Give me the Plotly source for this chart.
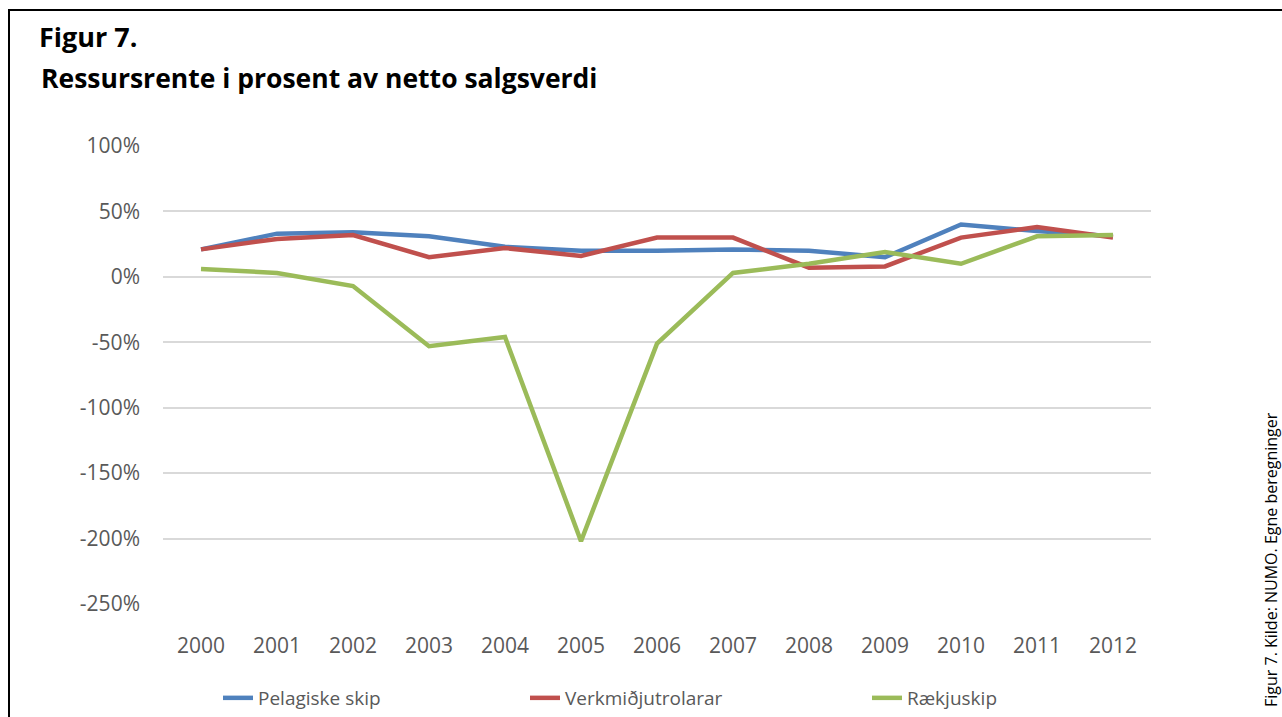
import plotly.graph_objects as go

W, H = 1282, 717

years = [str(y) for y in range(2000, 2013)]
pelagiske = [21, 33, 34, 31, 23, 20, 20, 21, 20, 15, 40, 35, 31]
verkmidju = [21, 29, 32, 15, 22, 16, 30, 30, 7, 8, 30, 38, 30]
raekjuskip = [6, 3, -7, -53, -46, -202, -51, 3, 10, 19, 10, 31, 32]

y_ticks = [100, 50, 0, -50, -100, -150, -200, -250]
y_labels = [f"{v}%" for v in y_ticks]

FONT = "Open Sans"
GREY = "#595959"


def px(x):
    return x / W


def py(y):
    return 1 - y / H


fig = go.Figure()
series = [
    ("Pelagiske skip", pelagiske, "#4F81BD", "legend", 218),
    ("Verkmiðjutrolarar", verkmidju, "#C0504D", "legend2", 525),
    ("Rækjuskip", raekjuskip, "#9BBB59", "legend3", 867),
]
legends = {}
for name, vals, col, leg, lx in series:
    fig.add_trace(go.Scatter(x=years, y=vals, name=name, mode="lines",
                             line=dict(color=col, width=4.5), legend=leg))
    # each series gets its own legend box so the entries sit where they do
    # in the original (uneven spacing)
    legends[leg] = dict(orientation="h", x=px(lx), y=py(698), xanchor="left",
                        yanchor="middle", font=dict(size=19, color=GREY),
                        bgcolor="rgba(0,0,0,0)")

fig.update_layout(
    width=W, height=H,
    margin=dict(l=0, r=0, t=0, b=0),
    paper_bgcolor="white", plot_bgcolor="white",
    font=dict(family=FONT, color=GREY, size=20),
    title=dict(text="<b>Figur 7.</b>", x=px(39), xanchor="left",
               y=py(38), yanchor="middle", xref="paper", yref="paper",
               font=dict(family=FONT, size=27, color="black")),
    xaxis=dict(domain=[px(163), px(1151)], type="category",
               range=[-0.5, 12.5], showgrid=False, showline=False,
               ticks="", ticklabelstandoff=27,
               tickfont=dict(size=21, color=GREY), automargin=False),
    yaxis=dict(domain=[py(604), py(146)], range=[-250, 100],
               tickvals=y_ticks, ticktext=y_labels, showgrid=True,
               gridcolor="#D9D9D9", gridwidth=1.5, zeroline=False,
               showline=False, ticks="", ticklabelstandoff=22,
               tickfont=dict(size=21, color=GREY), automargin=False),
    showlegend=True,
    **legends,
    annotations=[
        dict(text="<b>Ressursrente i prosent av netto salgsverdi</b>",
             x=px(39), y=py(78), xref="paper", yref="paper",
             xanchor="left", yanchor="middle", showarrow=False,
             font=dict(family=FONT, size=26.5, color="black")),
        dict(text="Figur 7. Kilde: NUMO. Egne beregninger",
             x=px(1271), y=py(560), xref="paper", yref="paper",
             xanchor="center", yanchor="middle", showarrow=False,
             textangle=-90, font=dict(family=FONT, size=16, color="black")),
    ],
    shapes=[dict(type="rect", xref="paper", yref="paper",
                 x0=px(9), y0=py(760), x1=px(1320), y1=py(10),
                 line=dict(color="black", width=2))],
)

# drop the default body margin so the figure fills the window exactly
fig.write_html("out.html", config={"displayModeBar": False},
               post_script="document.body.style.margin='0';"
                           "document.body.style.overflow='hidden';")
